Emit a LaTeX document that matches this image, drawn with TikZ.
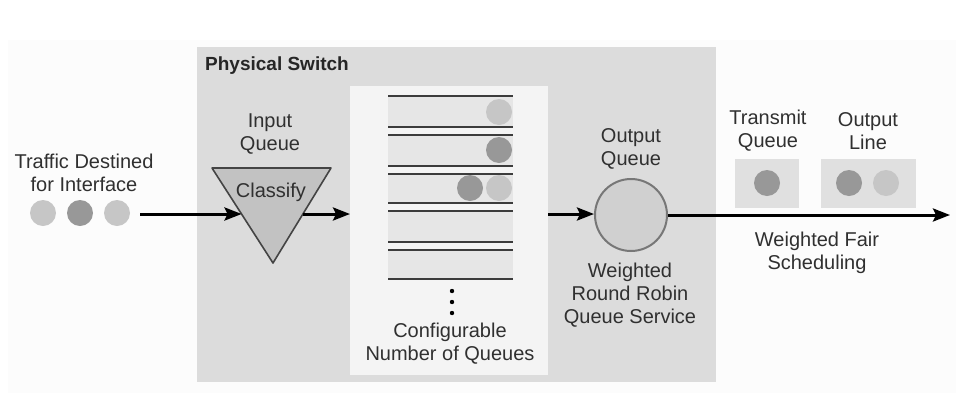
\documentclass[tikz,border=0pt]{standalone}
\usepackage{fontspec}
\setmainfont{Liberation Sans}
\usetikzlibrary{arrows.meta,calc}

\definecolor{pagebg}{HTML}{FCFCFC}
\definecolor{switchbg}{HTML}{DCDCDC}
\definecolor{panelbg}{HTML}{F4F4F4}
\definecolor{queuebg}{HTML}{E6E6E6}
\definecolor{barline}{HTML}{3C3C3C}
\definecolor{txt}{HTML}{303030}
\definecolor{pktlight}{HTML}{C6C6C6}
\definecolor{pktdark}{HTML}{989898}
\definecolor{trifill}{HTML}{C2C2C2}
\definecolor{trirule}{HTML}{444444}
\definecolor{oqfill}{HTML}{D0D0D0}
\definecolor{oqrule}{HTML}{777777}
\definecolor{boxbg}{HTML}{E0E0E0}

\tikzset{
  lbl/.style={align=center, font=\fontsize{20}{23}\selectfont, text=txt, inner sep=0pt},
  pkt/.style={circle, minimum size=26pt, inner sep=0pt},
  pktl/.style={pkt, fill=pktlight},
  pktd/.style={pkt, fill=pktdark},
  flow/.style={line width=3pt, -{Stealth[length=17pt,width=13pt,inset=3pt]}},
  bar/.style={draw=barline, line width=2pt},
  slot/.style={fill=queuebg},
}

\begin{document}
\begin{tikzpicture}[x=1pt,y=-1pt]
\useasboundingbox (0,0) rectangle (956,397);

% page and switch backgrounds
\fill[pagebg] (8,40) rectangle (956,393);
\fill[switchbg] (197,47) rectangle (716,382);
\node[anchor=west, font=\fontsize{19}{22}\selectfont\bfseries, text=black!85, inner sep=0pt]
  (switchlbl) at (205,66) {Physical Switch};

% incoming traffic
\node[lbl] (traffic) at (84,173) {Traffic Destined\\for Interface};
\node[pktl] (p1) at (43,213) {};
\node[pktd] (p2) at (80,213) {};
\node[pktl] (p3) at (117,213) {};
\coordinate (inStart) at (140,214);

% input queue / classifier
\node[lbl] (inq) at (270,134) {Input\\Queue};
\coordinate (tl) at (212,168);
\coordinate (tr) at (331,168);
\coordinate (ap) at (273,263);
\fill[trifill] (tl) -- (tr) -- (ap) -- cycle;
\draw[trirule, line width=1.6pt, line join=round] (tl) -- (tr) -- (ap) -- cycle;
\node[lbl] (classify) at (271,192) {Classify};
\coordinate (triIn) at ($(tl)!0.485!(ap)$);
\coordinate (triOut) at ($(tr)!0.485!(ap)$);

% configurable queues
\node[fill=panelbg, minimum width=198pt, minimum height=289pt, inner sep=0pt, anchor=north west]
  (panel) at (350,86) {};
\foreach \top/\bot in {96/127, 135/166, 174/203, 211/242, 250/279}{
  \fill[slot] (388,\top) rectangle (513,\bot);
  \draw[bar] (388,\top) -- (513,\top);
  \draw[bar] (388,\bot) -- (513,\bot);
}
\node[pktl] (q1a) at (499,112) {};
\node[pktd] (q2a) at (499,150) {};
\node[pktd] (q3b) at (470,188) {};
\node[pktl] (q3a) at (499,188) {};
\foreach \y in {291,302,313}{
  \fill[black] (452,\y) circle (2.2pt);
}
\node[lbl] (cfg) at (450,344) {Configurable\\Number of Queues};

% output queue
\node[lbl] (outq) at (631,149) {Output\\Queue};
\node[circle, fill=oqfill, draw=oqrule, line width=2pt, minimum size=72pt, inner sep=0pt]
  (oq) at (631,215) {};
\node[lbl] (wrr) at (630,295) {Weighted\\Round Robin\\Queue Service};

% transmit queue and output line
\node[lbl] (txq) at (768,131) {Transmit\\Queue};
\node[lbl] (oline) at (868,131) {Output\\Line};
\node[fill=boxbg, minimum width=64pt, minimum height=49pt, inner sep=0pt] (txbox) at (767,183) {};
\node[fill=boxbg, minimum width=95pt, minimum height=49pt, inner sep=0pt] (olbox) at (868.5,183) {};
\node[pktd] (t1) at (767,183) {};
\node[pktd] (o1) at (849,183) {};
\node[pktl] (o2) at (886,183) {};
\node[lbl] (wfs) at (817,253) {Weighted Fair\\Scheduling};
\coordinate (outEnd) at (950,215);

% flow arrows
\draw[flow] (inStart) -- (triIn |- inStart);
\draw[flow] (triOut |- inStart) -- (panel.west |- inStart);
\draw[flow] (panel.east |- inStart) -- (oq.west |- inStart);
\draw[flow] (oq.east) -- (outEnd);
\end{tikzpicture}
\end{document}
